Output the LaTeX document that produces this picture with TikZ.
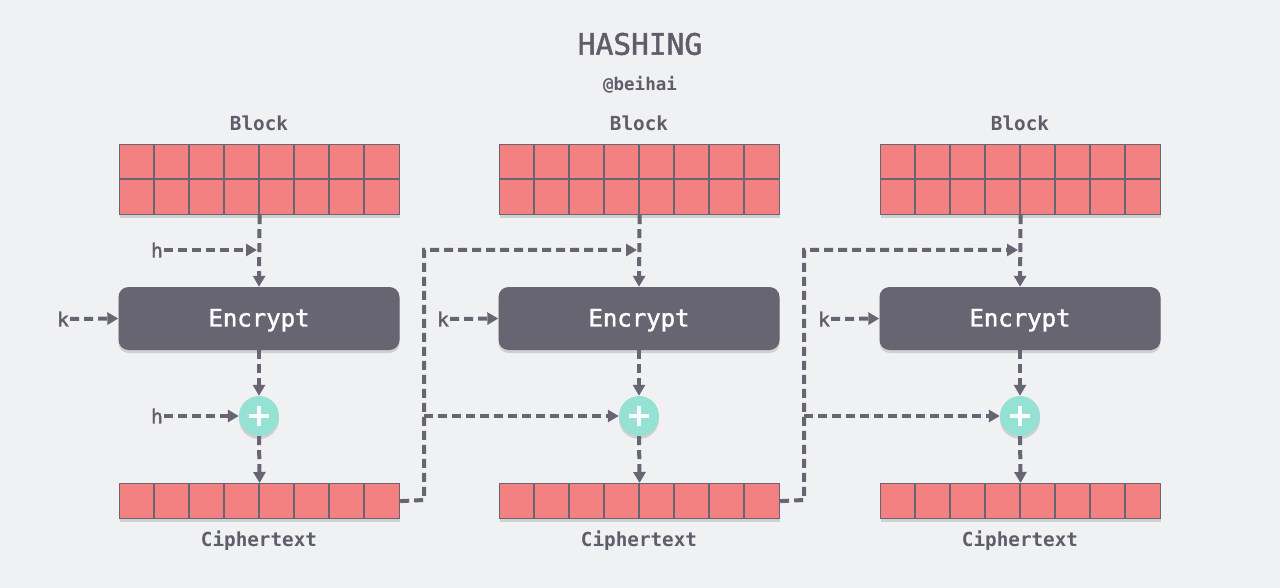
\documentclass[tikz,border=0pt]{standalone}
\usepackage{fontspec}
\setmonofont{DejaVu Sans Mono}
\newfontfamily\medmono[FakeBold=1.6]{DejaVu Sans Mono}
\usetikzlibrary{arrows.meta,shadows}
\definecolor{bg}{HTML}{F0F1F3}
\definecolor{cell}{HTML}{F38181}
\definecolor{ink}{HTML}{686572}
\definecolor{txt}{HTML}{5F5D69}
\definecolor{mint}{HTML}{95E1D3}
\tikzset{
  shad/.style={drop shadow={shadow xshift=0pt,shadow yshift=-3pt,opacity=0.2,fill=black!70}},
  blockbox/.style={rectangle,fill=cell,draw=ink,line width=1.2pt,minimum width=280pt,minimum height=70pt,inner sep=0pt,anchor=north west,shad},
  cipbox/.style={rectangle,fill=cell,draw=ink,line width=1.2pt,minimum width=280pt,minimum height=35pt,inner sep=0pt,anchor=north west,shad},
  encbox/.style={rectangle,rounded corners=10pt,fill=ink,minimum width=281pt,minimum height=63pt,inner sep=0pt,text depth=1.5pt,text=white,font=\medmono\fontsize{24}{28}\selectfont,shad},
  plusnode/.style={circle,fill=mint,minimum size=40pt,inner sep=0pt,shad},
  lbl/.style={text=txt,font=\ttfamily\bfseries\fontsize{19.3}{22}\selectfont,inner sep=0pt},
  inlbl/.style={text=txt,font=\medmono\fontsize{19.5}{22}\selectfont,inner sep=1pt},
  flow/.style={draw=ink,line width=4pt,dash pattern=on 9pt off 5pt,-{Triangle[width=12pt,length=11pt]}},
  grid/.style={draw=ink,line width=1.2pt}
}
\begin{document}
\begin{tikzpicture}[x=1pt,y=-1pt]
\useasboundingbox[fill=bg] (0,0) rectangle (1280,588);
\node[text=txt,font=\medmono\fontsize{29.5}{34}\selectfont,inner sep=0pt] (title) at (640,44) {HASHING};
\node[text=txt,font=\ttfamily\bfseries\fontsize{17.5}{20}\selectfont,inner sep=0pt] (author) at (640,85) {@beihai};

\foreach \i/\x in {1/119,2/499,3/880}{
  \node[blockbox] (blk\i) at (\x,144) {};
  \foreach \k in {1,...,7}{ \draw[grid] (\x+35*\k,144) -- (\x+35*\k,214); }
  \draw[grid] (\x,179) -- (\x+280,179);
  \node[lbl] (blab\i) at (\x+140,123) {Block};
  \node[encbox] (enc\i) at (\x+140,318.5) {Encrypt};
  \node[plusnode] (plus\i) at (\x+140,416) {};
  \draw[white,line width=4pt] (\x+130,416) -- (\x+150,416) (\x+140,406) -- (\x+140,426);
  \node[cipbox] (cip\i) at (\x,483) {};
  \foreach \k in {1,...,7}{ \draw[grid] (\x+35*\k,483) -- (\x+35*\k,518); }
  \node[lbl] (clab\i) at (\x+140,540.5) {Ciphertext};
  \coordinate (j\i) at (\x+140,250);
  \draw[flow] (blk\i.south) -- (enc\i.north);
  \draw[flow] (enc\i.south) -- (plus\i.north);
  \draw[flow] (plus\i.south) -- (cip\i.north);
}
\node[inlbl] (k1) at (63,319) {k};
\node[inlbl] (k2) at (443,319) {k};
\node[inlbl] (k3) at (824,319) {k};
\foreach \i in {1,2,3}{ \draw[flow] (k\i.east) -- (enc\i.west); }
\node[inlbl] (h1) at (157,250) {h};
\node[inlbl] (h2) at (157,416) {h};
\draw[flow] (h1.east) -- ([xshift=-2pt]j1);
\draw[flow] (h2.east) -- (plus1.west);

\coordinate (b1) at (424,416);
\coordinate (b2) at (804,416);
\draw[flow] (cip1.east) -- (424,500) -- (424,250) -- ([xshift=-2pt]j2);
\draw[flow] (b1) -- (plus2.west);
\draw[flow] (cip2.east) -- (804,500) -- (804,250) -- ([xshift=-2pt]j3);
\draw[flow] (b2) -- (plus3.west);
\end{tikzpicture}
\end{document}
